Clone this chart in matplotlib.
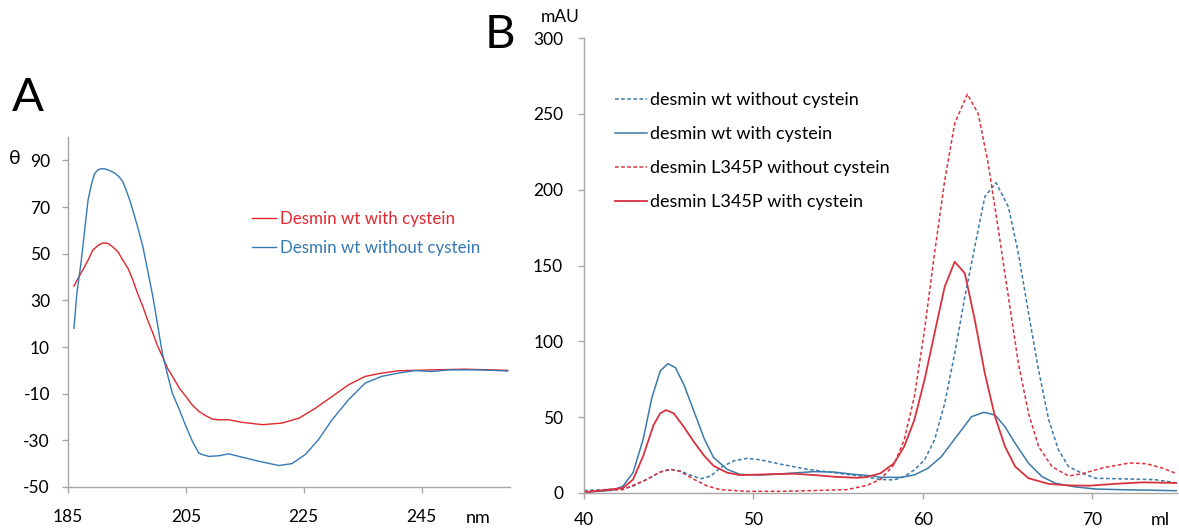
import matplotlib
matplotlib.use("Agg")
import matplotlib.pyplot as plt

plt.rcParams['font.family'] = ['Lato', 'DejaVu Sans']
plt.rcParams['axes.unicode_minus'] = False

_RED = '#e0262e'
_BLUE = '#3479b5'
_RED_B = '#d8323f'
_BLUE_B = '#3a7aaa'
_AXIS = '#a6a6a6'
_DASH = (0, (2.4, 1.6))

# CD spectra (nm, theta)
cd_wl_red = [186, 186.7, 187.5, 188.4, 189.2, 190.1, 190.9, 191.8, 192.6, 193.5,
             194.3, 195.2, 196, 196.8, 197.7, 198.5, 199.4, 200.2, 201, 201.9,
             202.7, 203.9, 205, 206.1, 207.2, 208.4, 209.5, 210.6, 212.3, 214.6,
             218, 221.3, 224.2, 227, 229.8, 232.6, 235.4, 238.2, 241, 246.7,
             252.3, 259.6]
cd_red = [36.1, 39.4, 43, 47.2, 51.5, 53.6, 54.6, 54.4, 52.9, 50.7,
          47.2, 43.6, 38.7, 33, 27.3, 21.6, 15.9, 10.4, 6, 0.8,
          -2.5, -7.7, -11.2, -14.9, -17.6, -19.5, -20.9, -21.2, -21.2, -22.3,
          -23.3, -22.6, -20.5, -16.2, -11.2, -6.2, -2.6, -1.2, -0.2, 0.2,
          0.5, 0]
cd_wl_blue = [186, 186.5, 187.25, 187.8, 188.4, 189, 189.5, 190.1, 190.6, 191.2,
              192, 192.9, 193.7, 194.3, 194.9, 195.4, 196, 196.8, 197.7, 198.5,
              199.4, 200.2, 201, 201.9, 202.7, 203.9, 205, 206.1, 207.2, 207.8,
              208.9, 210.6, 212.3, 214, 217.4, 220.8, 223, 225.3, 227.5, 229.8,
              232.6, 235.4, 238.2, 241, 243.9, 246.7, 249.5, 252.3, 255.1, 259.6]
cd_blue = [18, 33, 47, 59.6, 73, 80, 84.3, 86, 86.4, 86.4,
           85.7, 84.6, 82.9, 80.8, 77, 73.5, 68.6, 61.6, 53, 43,
           31.5, 19.5, 7.3, -2, -9.8, -16.9, -24, -30.4, -35.5, -36.1,
           -36.9, -36.6, -35.8, -36.9, -39, -40.8, -40, -36, -29.7, -21.2,
           -12.6, -5.5, -2.6, -1.2, -0.1, -0.5, 0.2, 0.2, 0.2, -0.3]

# chromatography traces (ml, mAU)
ml_wt_cys = [40, 41.7, 42.3, 42.9, 43.5, 44.0, 44.5, 44.95, 45.4, 45.9, 46.5,
             47.1, 47.65, 48.45, 49.2, 50.4, 52.0, 53.6, 54.75, 55.9, 57.1,
             57.5, 58.7, 59.5, 60.3, 61.09, 61.68, 62.28, 62.87, 63.6, 64.26,
             64.85, 65.45, 66.24, 67.03, 67.82, 69.0, 70.2, 71.6, 73.6, 75]
mau_wt_cys = [0.4, 1.8, 4.5, 13.4, 35.7, 62.5, 80.4, 85.3, 82.6, 71.4, 53.6,
              35.7, 23.4, 15.6, 12.3, 11.8, 12.9, 14.1, 13.8, 12.3, 11.2,
              10.3, 10.3, 11.9, 16.3, 23.9, 32.7, 41.5, 50.3, 53.2, 51.4,
              43.7, 32.7, 19.6, 10.8, 6.4, 4, 2.6, 2.2, 1.8, 1.5]

ml_l345p_cys = [40, 42.3, 42.9, 43.5, 44.1, 44.5, 44.85, 45.3, 45.9, 46.5, 47.1,
                47.65, 48.45, 49.2, 50.8, 52.4, 53.6, 54.75, 56.1, 56.7, 57.5,
                58.3, 58.9, 59.5, 60.1, 60.69, 61.29, 61.88, 62.48, 63.07, 63.66,
                64.26, 64.85, 65.45, 66.24, 67.43, 68.6, 69.8, 71.6, 73, 75]
mau_l345p_cys = [0.4, 3.3, 8.9, 24.5, 44.6, 52.5, 54.7, 52.5, 43.5, 33.5, 24.5,
                 17.9, 13.4, 11.8, 12.3, 12.7, 11.8, 10.7, 10, 10.5, 13,
                 19.6, 30.6, 48.2, 74.6, 105.3, 136, 152.5, 144.8, 114, 78.8,
                 50.3, 30.6, 17.4, 9.7, 6, 5, 4.8, 6.2, 7, 6.6]

ml_l345p_nocys = [40, 42.3, 43.7, 44.5, 45.1, 45.7, 46.5, 47.3, 48.05, 49.6,
                  51.6, 53.6, 55.5, 56.5, 56.7, 57.5, 58.3, 58.9, 59.5, 60.1,
                  60.69, 61.29, 61.88, 62.63, 63.27, 63.86, 64.46, 65.05, 65.64,
                  66.24, 66.83, 67.62, 68.6, 69.4, 70.6, 72.2, 73.2, 74.1, 75]
mau_l345p_nocys = [1.1, 2.2, 8.9, 13.8, 15.6, 14.1, 8.9, 4.5, 2.2, 1.1,
                   1.1, 1.6, 2.2, 4.5, 5, 9, 18.7, 35, 63.5, 107.5,
                   158, 206, 243.7, 263, 250, 217, 173.4, 129.4, 85.4,
                   52.5, 30.6, 17.4, 11.2, 12.7, 16.5, 19.8, 19.3, 16.5, 12.7]

ml_wt_nocys = [40, 42.3, 42.9, 43.7, 44.5, 45.1, 45.7, 46.3, 46.9, 47.5, 48.05,
               48.85, 49.6, 50.4, 51.6, 53.2, 54.75, 56.3, 57.5, 58.3, 58.9,
               59.5, 60.1, 60.69, 61.29, 61.88, 62.48, 63.07, 63.66, 64.32,
               65.05, 65.64, 66.24, 66.83, 67.43, 68.0, 68.6, 69.4, 70.2, 72.2,
               73.7, 75]
mau_wt_nocys = [1.6, 2.7, 4.5, 8.9, 13.8, 15.6, 14.5, 11.6, 9.4, 11.2, 16.7,
                21.2, 22.8, 21.9, 19, 15.6, 13.4, 11.2, 8.9, 8.6, 10.8,
                15.2, 21.8, 35, 59, 92, 129.4, 162.5, 195.4, 204.6,
                188.7, 158, 118.5, 81, 48.2, 28.5, 17.4, 13, 9.7, 9.2,
                8.8, 6.6]


def _style_axes(ax):
    for side in ('top', 'right'):
        ax.spines[side].set_visible(False)
    for side in ('left', 'bottom'):
        ax.spines[side].set_color(_AXIS)
        ax.spines[side].set_linewidth(1.0)
    ax.tick_params(colors=_AXIS, labelcolor='black', length=4, width=1.0,
                   labelsize=12.5)


fig = plt.figure(figsize=(11.79, 5.31), dpi=100)

# A: circular dichroism
ax1 = fig.add_axes([0.0577, 0.0829, 0.3749, 0.659])
_style_axes(ax1)
ax1.plot(cd_wl_red, cd_red, color=_RED, lw=1.0, label='Desmin wt with cystein')
ax1.plot(cd_wl_blue, cd_blue, color=_BLUE, lw=1.0, label='Desmin wt without cystein')
ax1.set_xlim(185, 260)
ax1.set_ylim(-50, 100)
ax1.set_xticks([185, 205, 225, 245])
ax1.set_yticks(range(-50, 91, 20))
ax1.tick_params(axis='x', pad=12)
ax1.tick_params(axis='y', pad=9)
leg1 = ax1.legend(loc='upper left', bbox_to_anchor=(0.416, 0.789), frameon=False,
                  fontsize=12.2, handlelength=1.45, handletextpad=0.2,
                  labelspacing=0.76, borderaxespad=0, borderpad=0)
for txt, col in zip(leg1.get_texts(), [_RED, _BLUE]):
    txt.set_color(col)
fig.text(15 / 1179, 1 - 158 / 531, 'θ', fontsize=14, ha='center', va='center')
fig.text(478 / 1179, 1 - 518 / 531, 'nm', fontsize=13, ha='center', va='center')
fig.text(28 / 1179, 1 - 98 / 531, 'A', fontsize=34, ha='center', va='center')

# B: elution profiles
ax2 = fig.add_axes([0.4953, 0.0716, 0.5030, 0.8568])
_style_axes(ax2)
ax2.plot(ml_wt_nocys, mau_wt_nocys, color=_BLUE_B, lw=1.1, ls=_DASH,
         label='desmin wt without cystein')
ax2.plot(ml_wt_cys, mau_wt_cys, color=_BLUE_B, lw=1.1,
         label='desmin wt with cystein')
ax2.plot(ml_l345p_nocys, mau_l345p_nocys, color=_RED_B, lw=1.1, ls=_DASH,
         label='desmin L345P without cystein')
ax2.plot(ml_l345p_cys, mau_l345p_cys, color=_RED_B, lw=1.3,
         label='desmin L345P with cystein')
ax2.set_xlim(40, 75)
ax2.set_ylim(0, 300)
ax2.set_xticks([40, 50, 60, 70])
ax2.set_yticks(range(0, 301, 50))
ax2.tick_params(axis='x', pad=10)
ax2.tick_params(axis='y', pad=11)
ax2.legend(loc='upper left', bbox_to_anchor=(0.052, 0.881), frameon=False,
           fontsize=13, handlelength=1.8, handletextpad=0.15,
           labelspacing=1.0, borderaxespad=0, borderpad=0)
fig.text(560 / 1179, 1 - 17 / 531, 'mAU', fontsize=12.5, ha='center', va='center')
fig.text(1160 / 1179, 1 - 520 / 531, 'ml', fontsize=13, ha='center', va='center')
fig.text(500 / 1179, 1 - 35 / 531, 'B', fontsize=34, ha='center', va='center')

fig.savefig('out.png', dpi=100)
